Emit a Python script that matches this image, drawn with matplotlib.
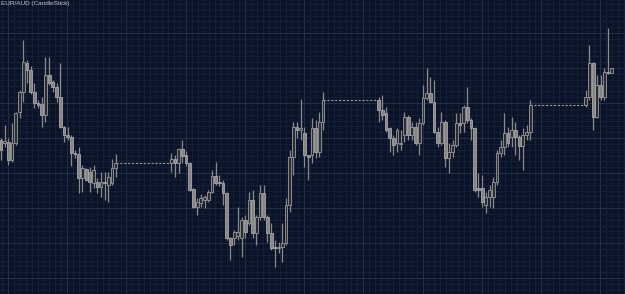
import numpy as np
import matplotlib
matplotlib.use('Agg')
import matplotlib.pyplot as plt
from matplotlib.ticker import MultipleLocator

# EUR/AUD candles, 4 trading sessions separated by closed-market gaps
seg_lengths = [32, 42, 42, 8]
gap = 15

opens = [160, 157, 158, 140, 157, 188, 208, 237, 230, 208, 197, 196, 185, 225, 218, 213,
         203, 173, 165, 163, 147, 146, 122, 131, 128, 117, 118, 113, 118, 115, 117, 132,
         137, 141, 137, 151, 145, 137, 111, 93, 97, 100, 100, 108, 124, 118, 117, 107,
         62, 62, 64, 62, 80, 77, 100, 67, 83, 107, 83, 67, 53, 52, 53, 57,
         95, 143, 173, 170, 167, 145, 145, 172, 148, 178,
         200, 190, 187, 172, 162, 157, 156, 165, 183, 165, 173, 157, 177, 202, 207, 198,
         168, 157, 178, 142, 148, 155, 177, 177, 193, 180, 172, 112, 112, 95, 103, 103,
         118, 147, 153, 167, 163, 170, 163, 154, 165, 168,
         195, 203, 237, 183, 215, 203, 228, 227]
highs = [162, 175, 162, 177, 188, 210, 260, 240, 234, 217, 200, 203, 243, 243, 220, 217,
         237, 174, 173, 165, 150, 153, 135, 132, 133, 135, 122, 128, 128, 128, 141, 146,
         147, 145, 152, 160, 149, 138, 112, 102, 106, 105, 110, 130, 138, 125, 120, 108,
         63, 70, 93, 83, 85, 108, 110, 85, 115, 115, 85, 77, 60, 58, 77, 102,
         150, 178, 178, 201, 173, 145, 182, 180, 188, 208,
         203, 205, 193, 173, 165, 172, 170, 188, 185, 178, 178, 182, 215, 232, 223, 220,
         173, 188, 180, 157, 160, 187, 187, 195, 213, 182, 173, 127, 125, 108, 115, 123,
         150, 160, 187, 173, 183, 178, 165, 172, 175, 200,
         210, 255, 238, 225, 225, 232, 272, 232]
lows = [140, 153, 135, 138, 155, 182, 198, 217, 206, 192, 192, 173, 178, 215, 208, 198,
        172, 158, 160, 134, 142, 107, 108, 119, 108, 112, 107, 103, 100, 98, 115, 123,
        128, 123, 127, 137, 134, 109, 92, 85, 93, 92, 98, 107, 115, 114, 95, 60,
        40, 55, 60, 43, 62, 75, 62, 55, 80, 80, 58, 50, 33, 47, 38, 55,
        88, 125, 162, 160, 133, 120, 137, 142, 143, 170,
        178, 180, 168, 148, 145, 148, 150, 158, 160, 160, 155, 145, 175, 200, 197, 167,
        153, 155, 133, 127, 143, 153, 167, 168, 177, 160, 108, 103, 93, 87, 93, 92,
        115, 143, 145, 153, 153, 145, 140, 130, 160, 160,
        193, 200, 170, 182, 200, 200, 226, 227]
closes = [150, 159, 140, 157, 187, 208, 238, 230, 208, 197, 195, 185, 225, 217, 213, 203,
          173, 165, 163, 147, 146, 122, 132, 120, 118, 130, 113, 118, 117, 123, 132, 137,
          141, 137, 151, 144, 137, 110, 93, 98, 102, 103, 108, 124, 117, 117, 107, 62,
          55, 68, 68, 80, 68, 100, 67, 83, 107, 83, 67, 52, 52, 53, 57, 95,
          143, 173, 170, 172, 145, 143, 172, 148, 178, 200,
          190, 185, 170, 162, 155, 170, 157, 183, 165, 173, 157, 177, 202, 207, 198, 168,
          157, 178, 142, 148, 155, 177, 175, 193, 180, 172, 110, 110, 98, 103, 110, 118,
          147, 153, 167, 157, 170, 163, 154, 165, 168, 195,
          203, 237, 183, 215, 203, 228, 227, 232]

title = 'EUR/AUD (CandleStick)'

# bar positions with the gaps left empty
idx = []
start = 0
for n in seg_lengths:
    idx.extend(range(start, start + n))
    start += n - 1 + gap
idx = np.array(idx)
o = np.array(opens); h = np.array(highs); l = np.array(lows); c = np.array(closes)

bg = '#0b1427'
fig = plt.figure(figsize=(6.25, 2.94), dpi=100, facecolor=bg)
ax = fig.add_axes([0, 0, 1, 1], facecolor=bg)

ax.xaxis.set_major_locator(MultipleLocator(16, offset=1.9))
ax.xaxis.set_minor_locator(MultipleLocator(1.6, offset=0.3))
ax.yaxis.set_major_locator(MultipleLocator(35, offset=22))
ax.yaxis.set_minor_locator(MultipleLocator(35 / 6, offset=22))
ax.grid(which='minor', color='#16203a', lw=0.6)
ax.grid(which='major', color='#243049', lw=0.7)
ax.set_axisbelow(True)
ax.tick_params(which='both', length=0, labelbottom=False, labelleft=False)
for s in ax.spines.values():
    s.set_visible(False)

up = c >= o
ax.vlines(idx, l, h, color='#8a8a8a', lw=0.9, zorder=2)
ax.bar(idx[up], (c - o)[up], bottom=o[up], width=0.75, color='#2a2d33',
       edgecolor='#9a9a9a', lw=0.6, zorder=3)
ax.bar(idx[~up], (c - o)[~up], bottom=o[~up], width=0.75, color='#858585',
       edgecolor='#a8a8a8', lw=0.6, zorder=3)

# dashed connectors across the closed periods
ends = np.cumsum(seg_lengths)
for e in ends[:-1]:
    ax.plot([idx[e - 1], idx[e]], [c[e - 1], o[e]], color='#9a9a9a', lw=0.8,
            ls=(0, (2, 1.5)), zorder=2)

ax.set_xlim(-0.27, 168.6)
ax.set_ylim(6, 300)

fig.text(0.002, 0.995, title, fontsize=4.6, color='#c8c8c8', va='top', ha='left',
         family=['Liberation Sans Narrow', 'Liberation Sans', 'DejaVu Sans'])

plt.savefig('out.png', dpi=100, facecolor=bg)
